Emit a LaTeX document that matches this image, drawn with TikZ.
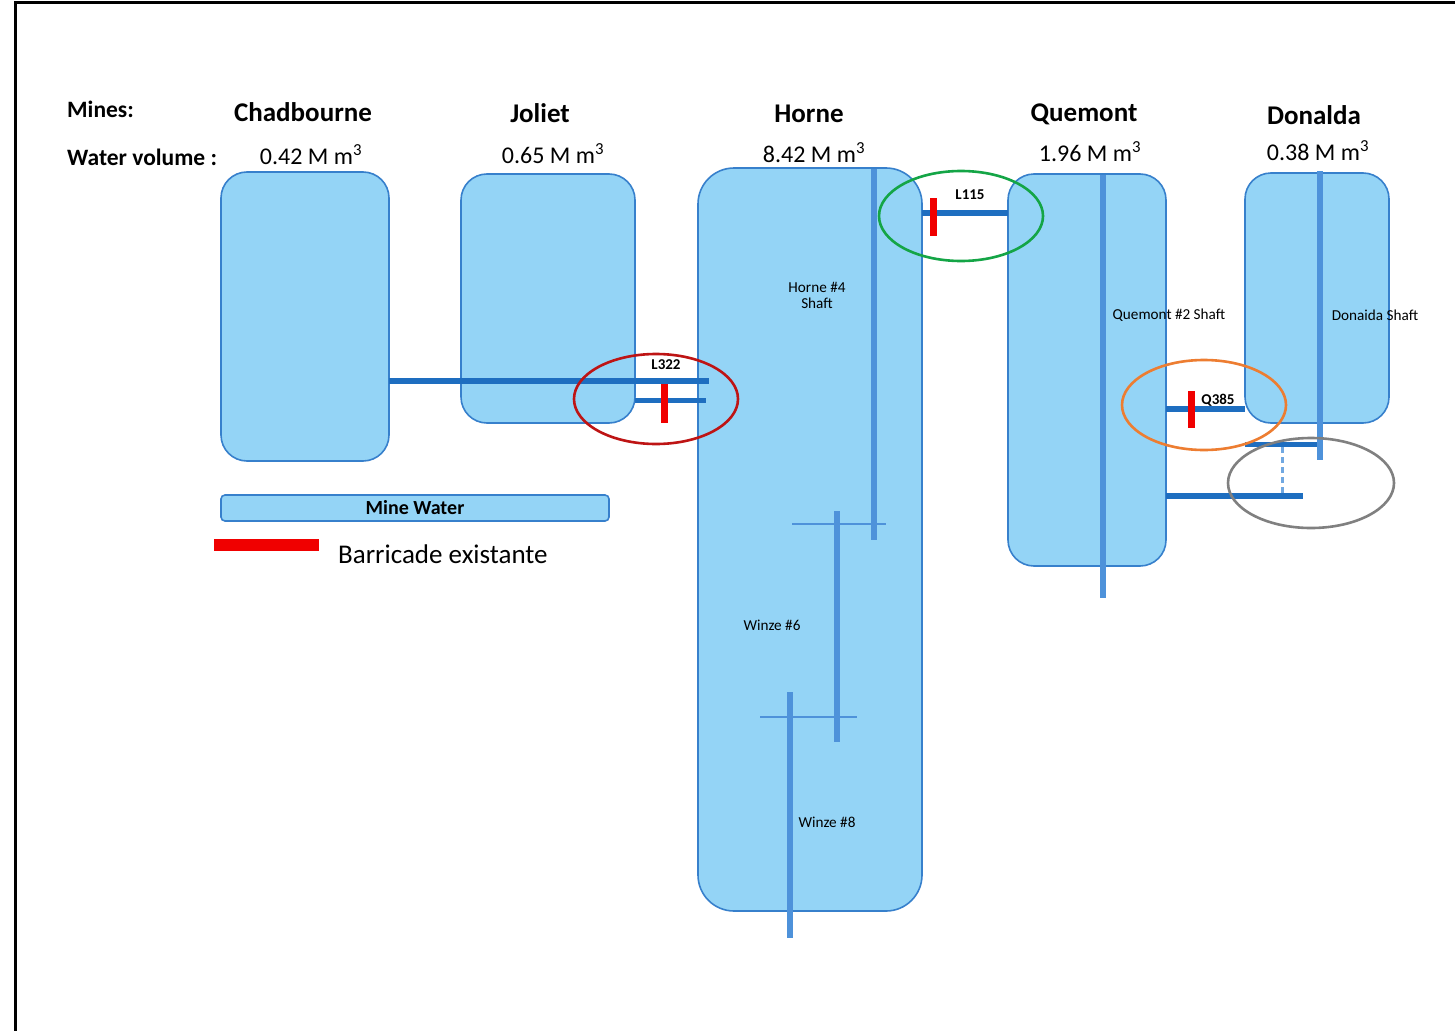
\documentclass[tikz,border=0pt]{standalone}
\usepackage{fontspec}
\setmainfont{Carlito}
\definecolor{water}{RGB}{148,212,246}
\definecolor{boxedge}{RGB}{55,128,204}
\definecolor{driftblue}{RGB}{30,110,192}
\definecolor{shaftblue}{RGB}{78,146,218}
\definecolor{barred}{RGB}{240,0,0}
\definecolor{ringred}{RGB}{190,20,20}
\definecolor{ringgreen}{RGB}{20,165,70}
\definecolor{ringorange}{RGB}{237,125,49}
\definecolor{ringgray}{RGB}{128,128,128}
\begin{document}
\begin{tikzpicture}[x=1pt,y=-1pt,
  minebox/.style={draw=boxedge, line width=1.6, fill=water, rounded corners=#1,
    inner sep=0, outer sep=0},
  drift/.style={draw=driftblue, line width=6},
  shaftline/.style={draw=shaftblue, line width=6},
  levelline/.style={draw=shaftblue, line width=1.4},
  barricade/.style={draw=barred, line width=7},
  ring/.style={line width=2.6},
  hdr/.style={font=\fontsize{23.5}{27}\selectfont\bfseries, inner sep=0},
  minename/.style={font=\fontsize{27}{31}\selectfont\bfseries, inner sep=0},
  volume/.style={font=\fontsize{24}{28}\selectfont, inner sep=0},
  small/.style={font=\fontsize{15.2}{17}\selectfont, inner sep=0, align=center},
  smallbold/.style={font=\fontsize{15}{17}\selectfont\bfseries, inner sep=0}]
\useasboundingbox (0,0) rectangle (1455,1030);
\fill[white] (0,0) rectangle (1455,1030);

% frame
\draw[line width=3] (15,1032) -- (15,3) -- (1457,3);

% column headings
\node[hdr, anchor=west] (lmines) at (67,109) {Mines:};
\node[hdr, anchor=west] (lvol) at (67,157) {Water volume :};
\node[minename] (nchad) at (303,112) {Chadbourne};
\node[minename] (njol) at (540,113) {Joliet};
\node[minename] (nhor) at (809,114) {Horne};
\node[minename] (nque) at (1084,114) {Quemont};
\node[minename] (ndon) at (1314,115) {Donalda};
\node[volume] (vchad) at (311,155) {0.42 M m\textsuperscript{3}};
\node[volume] (vjol) at (553,154) {0.65 M m\textsuperscript{3}};
\node[volume] (vhor) at (814,153) {8.42 M m\textsuperscript{3}};
\node[volume] (vque) at (1090,152) {1.96 M m\textsuperscript{3}};
\node[volume] (vdon) at (1318,151) {0.38 M m\textsuperscript{3}};

% mine workings
\node[minebox=26, minimum width=168, minimum height=289] (chad) at (305,316.5) {};
\node[minebox=26, minimum width=174, minimum height=249] (jol) at (548,298.5) {};
\node[minebox=36, minimum width=224, minimum height=743] (hor) at (810,539.5) {};
\node[minebox=26, minimum width=158, minimum height=392] (que) at (1087,370) {};
\node[minebox=26, minimum width=144, minimum height=250] (don) at (1317,298) {};

% drift end points
\coordinate (cEnd) at (709,381);
\coordinate (jEnd) at (706,400);
\coordinate (hTop) at (874,169);
\coordinate (hBot) at (874,540);
\coordinate (qTop) at (1103,175);
\coordinate (qBot) at (1103,598);
\coordinate (dTop) at (1320,171);
\coordinate (dBot) at (1320,460);
\coordinate (w6Top) at (837,511);
\coordinate (w6Bot) at (837,742);
\coordinate (w8Top) at (790,692);
\coordinate (w8Bot) at (790,938);
\coordinate (dLow) at (1320,444);
\coordinate (dLowW) at (1245,444);
\coordinate (qLowE) at (1303,496);
\coordinate (dashTop) at (1282,447);
\coordinate (dashBot) at (1282,494);

% drifts
\draw[drift] (chad.east |- cEnd) -- (cEnd);
\draw[drift, line width=5] (jol.east |- jEnd) -- (jEnd);
\draw[drift] (hor.east |- 0,213) -- (que.west |- 0,213);
\draw[drift] (que.east |- 0,409) -- (don.west |- 0,409);
\draw[drift, line width=5] (dLowW) -- (dLow);
\draw[drift] (que.east |- qLowE) -- (qLowE);
\draw[shaftblue!80, line width=3, dash pattern=on 6pt off 4pt] (dashTop) -- (dashBot);

% shafts and winzes
\draw[levelline] (792,524) -- (886,524);
\draw[levelline] (760,717) -- (857,717);
\draw[shaftline] (hTop) -- (hBot);
\draw[shaftline] (qTop) -- (qBot);
\draw[shaftline] (dTop) -- (dBot);
\draw[shaftline] (w6Top) -- (w6Bot);
\draw[shaftline] (w8Top) -- (w8Bot);

% barricades
\draw[barricade] (664,384) -- (664,423);
\draw[barricade] (933,198) -- (933,236);
\draw[barricade] (1191,391) -- (1191,428);

% labels
\node[smallbold] (l322) at (666,365) {L322};
\node[smallbold] (l115) at (970,195) {L115};
\node[smallbold] (q385) at (1218,400) {Q385};
\node[small] (shor) at (817,295) {Horne \#4\\[-1pt]Shaft};
\node[small] (sque) at (1169,315) {Quemont \#2 Shaft};
\node[small] (sdon) at (1375,315) {Donaida Shaft};
\node[small] (sw6) at (772,625) {Winze \#6};
\node[small] (sw8) at (827,822) {Winze \#8};

% highlighted connections
\draw[ring, draw=ringred] (656,399) ellipse [x radius=82pt, y radius=45pt];
\draw[ring, draw=ringgreen] (961,216) ellipse [x radius=82pt, y radius=45pt];
\draw[ring, draw=ringorange] (1204,405) ellipse [x radius=82pt, y radius=45pt];
\draw[ring, draw=ringgray] (1311,483) ellipse [x radius=83pt, y radius=45pt];

% legend
\node[minebox=4, minimum width=388, minimum height=26] (legbox) at (415,508) {};
\node[font=\fontsize{20}{23}\selectfont\bfseries, inner sep=0] (legtxt) at (legbox) {Mine Water};
\fill[barred] (214,539) rectangle (319,551);
\node[font=\fontsize{27}{31}\selectfont, anchor=west, inner sep=0] (legbar) at (338,554) {Barricade existante};
\end{tikzpicture}
\end{document}
